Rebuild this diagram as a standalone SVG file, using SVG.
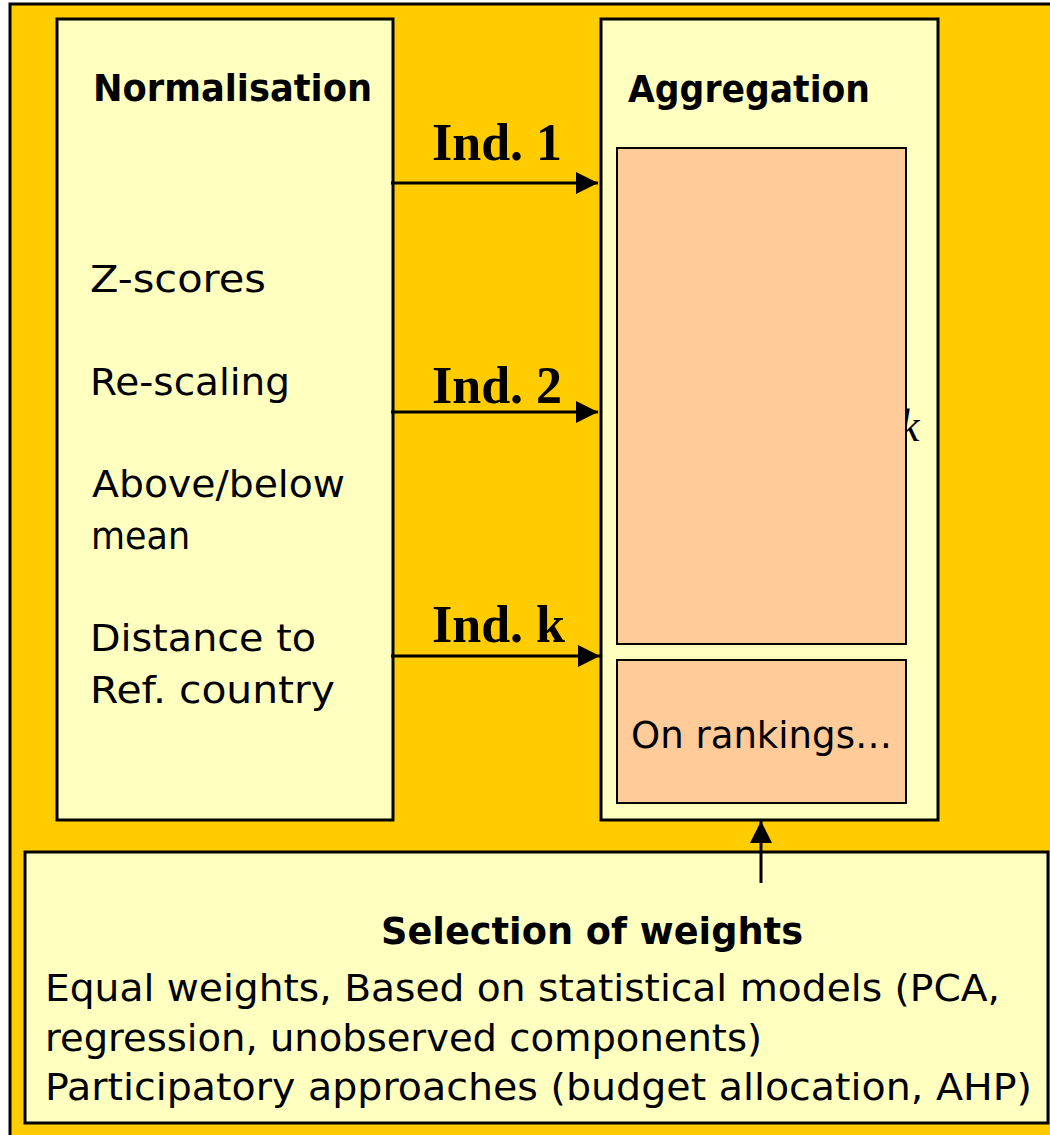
<svg xmlns="http://www.w3.org/2000/svg" width="1050" height="1135" viewBox="0 0 1050 1135">
  <defs>
    <marker id="arrow" viewBox="0 0 22 22" refX="22" refY="11" markerWidth="22" markerHeight="22" markerUnits="userSpaceOnUse" orient="auto">
      <path d="M0,0 L22,11 L0,22 Z" fill="#000"/>
    </marker>
    <style>
      .panel { fill: #FFFFC0; stroke: #000; stroke-width: 3; }
      .sub { fill: #FFCC99; stroke: #000; stroke-width: 2; }
      .body { font-family: "Comic Sans MS", "DejaVu Sans", sans-serif; font-size: 38px; fill: #000; }
      .head { font-family: "Comic Sans MS", "DejaVu Sans", sans-serif; font-size: 38px; font-weight: bold; fill: #000; }
      .ind { font-family: "Liberation Serif", "Times New Roman", serif; font-size: 52px; font-weight: bold; fill: #000; }
      .conn { stroke: #000; stroke-width: 3; fill: none; }
    </style>
  </defs>

  <!-- page background -->
  <rect x="0" y="0" width="1050" height="1135" fill="#FFFFFF"/>
  <rect x="10" y="4" width="1100" height="1200" fill="#FFCC00" stroke="#000" stroke-width="3"/>

  <!-- Normalisation panel -->
  <g id="normalisation">
    <rect class="panel" x="57" y="19" width="336" height="801"/>
    <text class="head" x="93" y="101" textLength="279" lengthAdjust="spacingAndGlyphs">Normalisation</text>
    <text class="body" x="90" y="292" textLength="176" lengthAdjust="spacingAndGlyphs">Z-scores</text>
    <text class="body" x="90" y="395" textLength="200" lengthAdjust="spacingAndGlyphs">Re-scaling</text>
    <text class="body" x="92" y="497" textLength="253" lengthAdjust="spacingAndGlyphs">Above/below</text>
    <text class="body" x="91" y="549" textLength="99" lengthAdjust="spacingAndGlyphs">mean</text>
    <text class="body" x="90" y="651" textLength="226" lengthAdjust="spacingAndGlyphs">Distance to</text>
    <text class="body" x="90" y="703" textLength="245" lengthAdjust="spacingAndGlyphs">Ref. country</text>
  </g>

  <!-- Aggregation panel -->
  <g id="aggregation">
    <rect class="panel" x="601" y="19" width="337" height="801"/>
    <text class="head" x="628" y="102" textLength="242" lengthAdjust="spacingAndGlyphs">Aggregation</text>
    <text x="899" y="441" font-family="Liberation Serif, Times New Roman, serif" font-style="italic" font-size="46">k</text>
    <rect id="aggregation-methods" class="sub" x="617" y="148" width="289" height="496"/>
    <g id="on-rankings">
      <rect class="sub" x="617" y="660" width="289" height="143"/>
      <text class="body" x="631" y="748" textLength="261" lengthAdjust="spacingAndGlyphs">On rankings…</text>
    </g>
  </g>

  <!-- Weights panel -->
  <g id="weights">
    <rect class="panel" x="25" y="852" width="1023" height="271"/>
    <text class="head" x="381" y="944" textLength="422" lengthAdjust="spacingAndGlyphs">Selection of weights</text>
    <text class="body" x="45" y="1001" textLength="955" lengthAdjust="spacingAndGlyphs">Equal weights, Based on statistical models (PCA,</text>
    <text class="body" x="45" y="1051" textLength="717" lengthAdjust="spacingAndGlyphs">regression, unobserved components)</text>
    <text class="body" x="45" y="1100" textLength="987" lengthAdjust="spacingAndGlyphs">Participatory approaches (budget allocation, AHP)</text>
  </g>

  <!-- Connectors -->
  <g id="connectors">
    <line class="conn" x1="391" y1="183" x2="598" y2="183" marker-end="url(#arrow)"/>
    <line class="conn" x1="391" y1="412" x2="598" y2="412" marker-end="url(#arrow)"/>
    <line class="conn" x1="391" y1="656" x2="600" y2="656" marker-end="url(#arrow)"/>
    <line class="conn" x1="761" y1="883" x2="761" y2="821" marker-end="url(#arrow)"/>
    <text class="ind" x="432" y="160">Ind. 1</text>
    <text class="ind" x="432" y="403">Ind. 2</text>
    <text class="ind" x="432" y="642">Ind. k</text>
  </g>
</svg>
